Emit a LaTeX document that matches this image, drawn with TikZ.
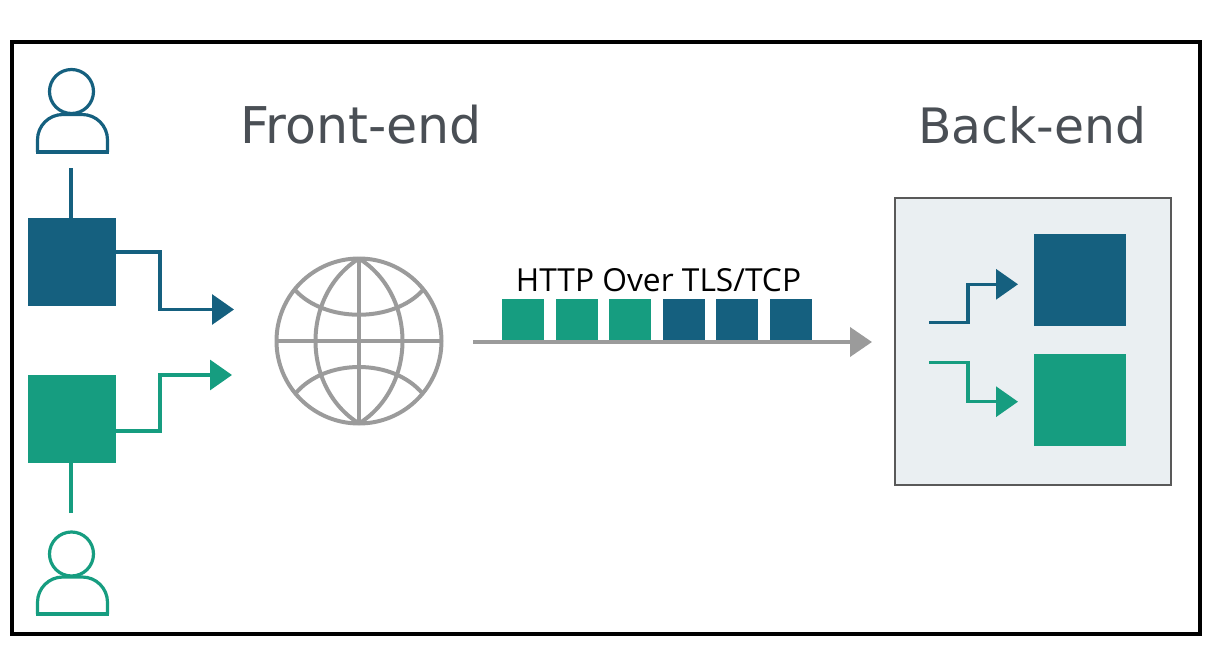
\documentclass[tikz,border=0pt]{standalone}
\usepackage{fontspec}
\usepackage{tikz}
\setmainfont{DejaVu Sans}
\newfontfamily\labelfont{Open Sans}
\usetikzlibrary{
	positioning,
	arrows.meta
}
\definecolor{bluecolor}{HTML}{15607F}
\definecolor{greencolor}{HTML}{169D80}
\definecolor{greycolor}{HTML}{9B9B9B}
\definecolor{panelcolor}{HTML}{EAEFF2}
\definecolor{titlecolor}{HTML}{4A4F55}
\tikzset{
	square/.style={
		shape=rectangle,
		fill=#1,
		minimum size=66pt,
		inner sep=0pt,
		outer sep=0pt
	},
	bigsquare/.style={
		square=#1,
		minimum size=69pt
	},
	packetnode/.style={
		square=#1,
		minimum size=31.5pt
	},
	head/.style={
		shape=circle,
		draw=#1,
		line width=2.4pt,
		minimum size=33pt,
		inner sep=0pt,
		outer sep=0pt
	},
	wire/.style={
		color=#1,
		line width=2.4pt
	},
	arrow/.style={
		wire=#1,
		-{Triangle[length=16.5pt,width=22.5pt]}
	},
	globeline/.style={
		draw=greycolor,
		line width=3pt
	},
	title/.style={
		font=\fontsize{#1}{44}\selectfont,
		text=titlecolor
	}
}

\begin{document}
\begin{tikzpicture}[x=0.75pt,y=-0.75pt]
	\useasboundingbox (0,0) rectangle (1222,660);
	
	% Frame
	\node[draw=black, line width=3pt, minimum width=891pt, minimum height=444pt,
	inner sep=0pt, outer sep=0pt] (frame) at (606,338) {};
	
	% Titles
	\node[title=38] (front) at (361,125) {Front-end};
	\node[title=36.6] (back) at (1032,125) {Back-end};
	
	% Top user
	\node[head=bluecolor] (headA) at (71.5,91.5) {};
	\draw[wire=bluecolor, rounded corners=19pt] (37.5,152) -- (37.5,114.5) -- (107.5,114.5) -- (107.5,152);
	\draw[wire=bluecolor, line cap=rect] (37.5,152) -- (107.5,152);
	\node[square=bluecolor] (blueA) at (72,262) {};
	\coordinate (userA) at (71,168);
	\draw[wire=bluecolor] (userA) -- (userA |- blueA.north);
	
	% Bottom user
	\node[head=greencolor] (headB) at (71.5,554) {};
	\draw[wire=greencolor, rounded corners=19pt] (37.5,614) -- (37.5,577) -- (107.5,577) -- (107.5,614);
	\draw[wire=greencolor, line cap=rect] (37.5,614) -- (107.5,614);
	\node[square=greencolor] (greenA) at (72,419) {};
	\coordinate (userB) at (71,513);
	\draw[wire=greencolor] (userB) -- (userB |- greenA.south);
	
	% Globe
	\node[shape=circle, globeline, minimum size=123.75pt, inner sep=0pt, outer sep=0pt]
	(globe) at (359,341) {};
	\draw[globeline] (globe.north) -- (globe.south);
	\draw[globeline] (globe.west) -- (globe.east);
	\draw[globeline] (globe.north) .. controls (301,295) and (301,387) .. (globe.south);
	\draw[globeline] (globe.north) .. controls (417,295) and (417,387) .. (globe.south);
	\draw[globeline] (295,290) .. controls (325,323) and (393,323) .. (423,290);
	\draw[globeline] (295,394) .. controls (325,358) and (393,358) .. (423,394);
	
	% Arrows into the globe
	\coordinate (inA) at (234,309.5);
	\coordinate (inB) at (232,375);
	\draw[arrow=bluecolor] ([yshift=7.5pt]blueA.east) -| (160,280) |- (inA);
	\draw[arrow=greencolor] ([yshift=-9pt]greenA.east) -| (160,400) |- (inB);
	
	% Packets
	\node[packetnode=greencolor] (p1) at (523,320) {};
	\node[packetnode=greencolor, right=8.7pt of p1] (p2) {};
	\node[packetnode=greencolor, right=8.7pt of p2] (p3) {};
	\node[packetnode=bluecolor, right=8.7pt of p3] (p4) {};
	\node[packetnode=bluecolor, right=8.7pt of p4] (p5) {};
	\node[packetnode=bluecolor, right=8.7pt of p5] (p6) {};
	\node[font=\labelfont\fontsize{23.8}{28}\selectfont, text=black] (http) at (658.5,280.5) {HTTP Over TLS/TCP};
	
	% Main arrow
	\coordinate (start) at (473,342);
	\coordinate (stop) at (872,342);
	\draw[greycolor, line width=3pt, -{Triangle[length=16.5pt,width=21.75pt]}] (start) -- (stop);
	
	% Back-end
	\node[draw=black!65, fill=panelcolor, line width=1.1pt, minimum width=207pt, minimum height=215pt,
	inner sep=0pt, outer sep=0pt] (panel) at (1033,341.5) {};
	\node[bigsquare=bluecolor] (blueB) at (1079.7,280) {};
	\node[bigsquare=greencolor] (greenB) at (1079.7,400) {};
	\coordinate (outA) at (929,322.7);
	\coordinate (tipA) at (1018,284.3);
	\coordinate (outB) at (929,362.3);
	\coordinate (tipB) at (1018,401.7);
	\draw[arrow=bluecolor] (outA) -| (968,300) |- (tipA);
	\draw[arrow=greencolor] (outB) -| (968,380) |- (tipB);
	
\end{tikzpicture}
\end{document}
